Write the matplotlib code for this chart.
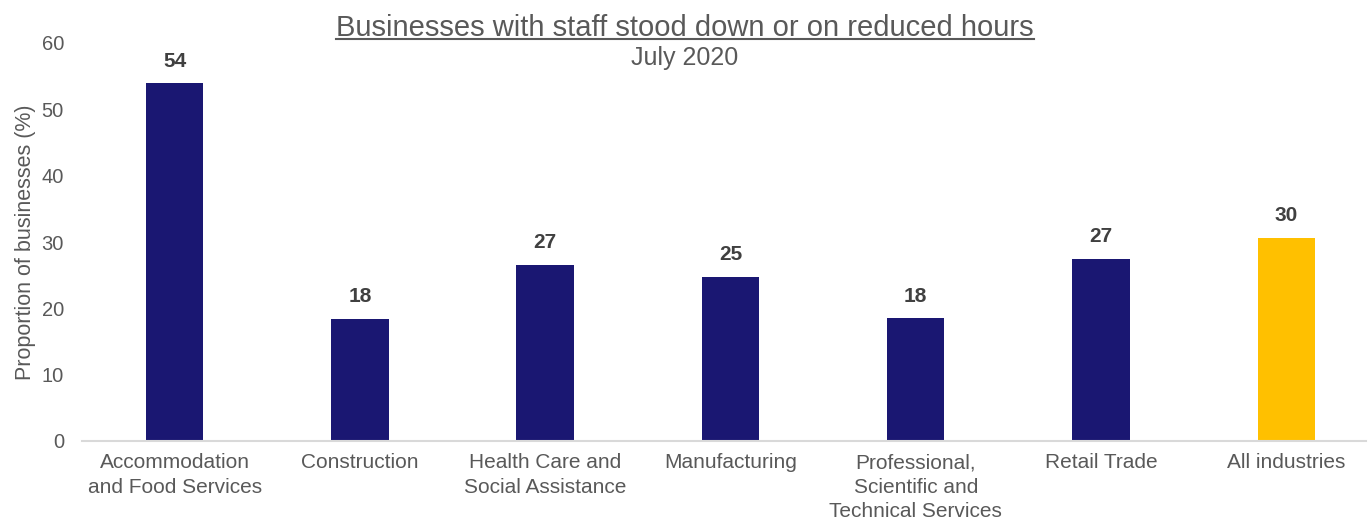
import matplotlib
matplotlib.use("Agg")
import matplotlib.pyplot as plt
from matplotlib.lines import Line2D

plt.rcParams["font.family"] = ["Liberation Sans", "DejaVu Sans"]

# dane
categories = [
    "Accommodation\nand Food Services",
    "Construction",
    "Health Care and\nSocial Assistance",
    "Manufacturing",
    "Professional,\nScientific and\nTechnical Services",
    "Retail Trade",
    "All industries",
]
values = [53.9, 18.4, 26.6, 24.7, 18.5, 27.5, 30.6]
labels = ["54", "18", "27", "25", "18", "27", "30"]
colors = ["#1a1772"] * 6 + ["#ffc000"]

title = "Businesses with staff stood down or on reduced hours"
subtitle = "July 2020"
ylabel = "Proportion of businesses (%)"

W, H = 1368, 522
fig = plt.figure(figsize=(W / 100, H / 100), dpi=100)
ax = fig.add_axes([82 / W, (H - 441) / H, (1366 - 82) / W, (441 - 43) / H])

x = range(len(categories))
ax.bar(x, values, width=0.31, color=colors)

for xi, v, lab in zip(x, values, labels):
    ax.annotate(lab, (xi, v), xytext=(0, 16), textcoords="offset points",
                ha="center", va="center", fontsize=15, fontweight="bold",
                color="#404040")

ax.set_xlim(-0.5, 6.43)
ax.set_ylim(0, 60)
ax.set_yticks(range(0, 61, 10))
ax.set_xticks(list(x))
ax.set_xticklabels(categories, fontsize=15, color="#595959", linespacing=1.35)
ax.tick_params(axis="y", labelsize=14.5, labelcolor="#595959", length=0, pad=13)
ax.tick_params(axis="x", length=0, pad=9)
for s in ["top", "right", "left"]:
    ax.spines[s].set_visible(False)
ax.spines["bottom"].set_color("#d9d9d9")
ax.spines["bottom"].set_linewidth(1.5)

ax.set_ylabel(ylabel, fontsize=15.5, color="#595959", labelpad=4)

t = fig.text(685 / W, 1 - 28 / H, title, ha="center", va="center",
             fontsize=21, color="#595959")
fig.text(685 / W, 1 - 58 / H, subtitle, ha="center", va="center",
         fontsize=18, color="#595959")

# podkreślenie tytułu
fig.canvas.draw()
bb = t.get_window_extent().transformed(fig.transFigure.inverted())
fig.add_artist(Line2D([bb.x0, bb.x1], [bb.y0 + 0.006, bb.y0 + 0.006],
                      transform=fig.transFigure, color="#595959", linewidth=1.5))

fig.savefig("out.png", dpi=100)
